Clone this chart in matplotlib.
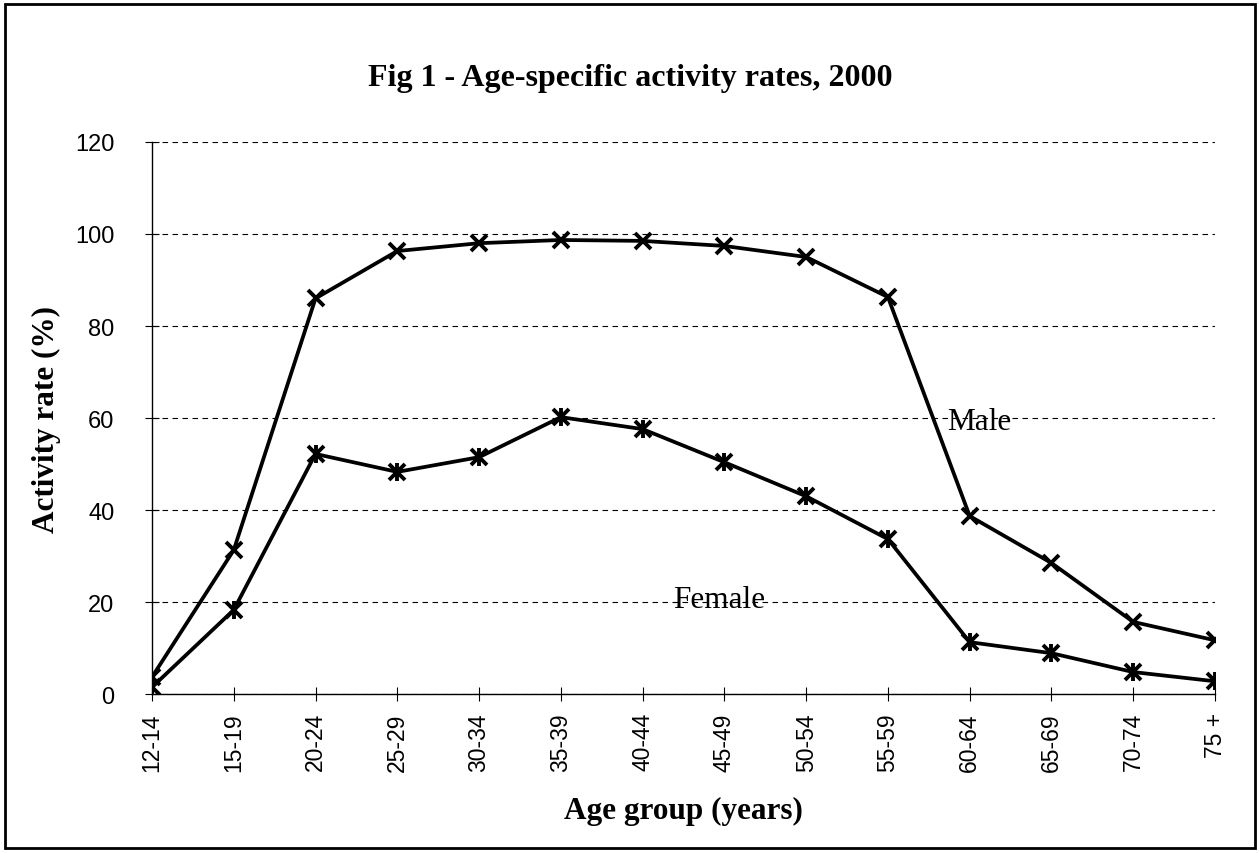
import matplotlib
matplotlib.use("Agg")
import matplotlib.pyplot as plt
from matplotlib.patches import Rectangle

categories = ["12-14", "15-19", "20-24", "25-29", "30-34", "35-39", "40-44",
              "45-49", "50-54", "55-59", "60-64", "65-69", "70-74", "75 +"]
male = [3.7, 31.3, 86.0, 96.3, 98.0, 98.7, 98.5, 97.4, 95.0, 86.3, 38.7, 28.5, 15.7, 11.7]
female = [1.5, 18.3, 52.2, 48.3, 51.5, 60.2, 57.6, 50.4, 43.0, 33.7, 11.3, 8.9, 4.8, 2.8]
yticks = [0, 20, 40, 60, 80, 100, 120]

serif = ["Liberation Serif", "DejaVu Serif"]
sans = ["Liberation Sans", "DejaVu Sans"]

fig = plt.figure(figsize=(12.6, 8.54), dpi=100)
ax = fig.add_axes([0.1206, 0.186, 0.8437, 0.6466])

x = list(range(len(categories)))
ax.plot(x, male, color="black", lw=2.7, marker="x", ms=12, mew=2.8, zorder=3)
ax.plot(x, female, color="black", lw=2.7, marker="x", ms=12, mew=2.8, zorder=3)
ax.plot(x, female, color="none", marker="|", ms=13, mew=2.8, mec="black", zorder=4)

ax.set_xlim(0, len(categories) - 1)
ax.set_ylim(0, 120)
ax.set_yticks(yticks)
ax.set_xticks(x)
ax.set_xticklabels(categories, rotation=90, fontfamily=sans, fontsize=16.5)
for lab in ax.get_yticklabels():
    lab.set_fontfamily(sans)
    lab.set_fontsize(17)
ax.yaxis.grid(True, linestyle=(0, (5, 4)), color="black", lw=0.8)
ax.set_axisbelow(True)
for s in ["top", "right"]:
    ax.spines[s].set_visible(False)
ax.spines["left"].set_linewidth(1.0)
ax.spines["bottom"].set_linewidth(1.0)
ax.tick_params(axis="y", direction="inout", length=10, pad=22)
ax.tick_params(axis="x", direction="inout", length=10, pad=8)

ax.set_xlabel("Age group (years)", fontfamily=serif, fontweight="bold", fontsize=22.5, labelpad=18)
ax.set_ylabel("Activity rate (%)", fontfamily=serif, fontweight="bold", fontsize=22.5, labelpad=10)

fig.text(0.5, 0.908, "Fig 1 - Age-specific activity rates, 2000", ha="center", va="center",
         fontfamily=serif, fontweight="bold", fontsize=23)

ax.text(9.72, 59.2, "Male", fontfamily=serif, fontsize=22.5, ha="left", va="center")
ax.text(6.37, 20.6, "Female", fontfamily=serif, fontsize=22.5, ha="left", va="center")

fig.patches.append(Rectangle((0.004, 0.006), 0.992, 0.988, transform=fig.transFigure,
                             fill=False, edgecolor="black", lw=2))

fig.savefig("out.png", dpi=100)
